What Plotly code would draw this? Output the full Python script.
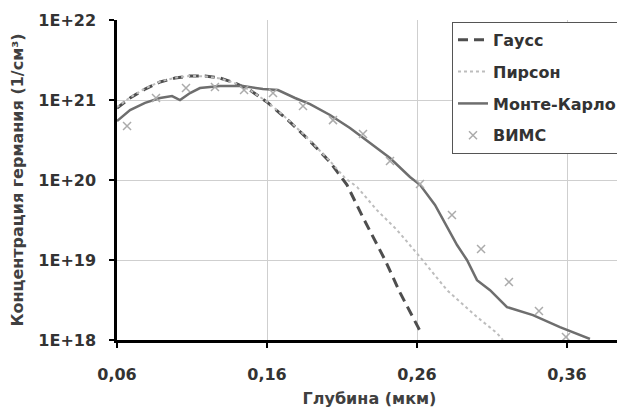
import plotly.graph_objects as go

# ---- data ----
gauss_x = [0.0600, 0.0687, 0.0787, 0.0887, 0.0987, 0.1087, 0.1187, 0.1287, 0.1387, 0.1487,
           0.1607, 0.1740, 0.1873, 0.2020, 0.2133, 0.2240, 0.2387, 0.2487, 0.2607, 0.2627]
gauss_y = [7.9e20, 1.06e21, 1.37e21, 1.68e21, 1.88e21, 2.0e21, 2.0e21, 1.88e21, 1.63e21, 1.33e21,
           9.2e20, 5.6e20, 3.25e20, 1.68e20, 8.7e19, 3.4e19, 1.0e19, 3.9e18, 1.45e18, 1.22e18]

pearson_x = [0.0600, 0.0687, 0.0787, 0.0887, 0.0987, 0.1087, 0.1187, 0.1287, 0.1387, 0.1487,
             0.1607, 0.1740, 0.1873, 0.2020, 0.2120, 0.2200, 0.2333, 0.2467, 0.2620, 0.2800,
             0.3000, 0.3133, 0.3173]
pearson_y = [8.1e20, 1.08e21, 1.39e21, 1.70e21, 1.90e21, 2.0e21, 1.98e21, 1.86e21, 1.62e21, 1.33e21,
             9.3e20, 5.7e20, 3.3e20, 1.72e20, 1.06e20, 8.2e19, 4.2e19, 2.37e19, 1.09e19, 4.2e18,
             1.94e18, 1.22e18, 1.0e18]

mc_x = [0.0600, 0.0687, 0.0787, 0.0887, 0.0967, 0.1020, 0.1087, 0.1153, 0.1287, 0.1440,
        0.1573, 0.1673, 0.1787, 0.1887, 0.2020, 0.2153, 0.2287, 0.2420, 0.2553, 0.2620,
        0.2720, 0.2800, 0.2867, 0.2933, 0.3000, 0.3087, 0.3200, 0.3373, 0.3553, 0.3753]
mc_y = [5.46e20, 7.5e20, 9.2e20, 1.06e21, 1.12e21, 1.0e21, 1.22e21, 1.41e21, 1.5e21, 1.5e21,
        1.37e21, 1.33e21, 1.06e21, 8.9e20, 6.5e20, 4.47e20, 2.9e20, 1.88e20, 1.09e20, 8.7e19,
        4.87e19, 2.58e19, 1.54e19, 1.0e19, 5.6e18, 4.2e18, 2.58e18, 2.05e18, 1.45e18, 1.03e18]

sims_x = [0.0667, 0.0860, 0.1060, 0.1253, 0.1447, 0.1640, 0.1840, 0.2040, 0.2240, 0.2420,
          0.2620, 0.2833, 0.3027, 0.3213, 0.3413, 0.3593]
sims_y = [4.73e20, 1.06e21, 1.41e21, 1.45e21, 1.33e21, 1.22e21, 8.4e20, 5.6e20, 3.76e20, 1.73e20,
          8.9e19, 3.65e19, 1.37e19, 5.3e18, 2.3e18, 1.09e18]

series_names = ["Гаусс", "Пирсон", "Монте-Карло", "ВИМС"]

x_tickvals = [0.06, 0.16, 0.26, 0.36]
x_ticktext = ["0,06", "0,16", "0,26", "0,36"]
y_tickvals = [1e18, 1e19, 1e20, 1e21, 1e22]
y_ticktext = ["1E+18", "1E+19", "1E+20", "1E+21", "1E+22"]

x_title = "Глубина (мкм)"
y_title = "Концентрация германия (1/см³)"

FONT = "DejaVu Sans"
TXT = "#333333"

fig = go.Figure()
fig.add_trace(go.Scatter(x=gauss_x, y=gauss_y, mode="lines", name=series_names[0],
                         legendgroup="g1",
                         line=dict(color="#4e4e4e", width=3, dash="10px,6px")))
fig.add_trace(go.Scatter(x=pearson_x, y=pearson_y, mode="lines", name=series_names[1],
                         legendgroup="g2",
                         line=dict(color="#bdbdbd", width=2, dash="dot")))
fig.add_trace(go.Scatter(x=mc_x, y=mc_y, mode="lines", name=series_names[2],
                         legendgroup="g3",
                         line=dict(color="#6e6e6e", width=2.5)))
fig.add_trace(go.Scatter(x=sims_x, y=sims_y, mode="markers", name=series_names[3],
                         legendgroup="g4",
                         marker=dict(symbol="x-thin", size=8, color="#ababab",
                                     line=dict(color="#ababab", width=1.5))))

# the page body adds an 8 px offset; the figure is sized to fill the 625x410 window
fig.update_layout(
    width=617, height=402,
    margin=dict(l=109, r=3, t=12, b=70),
    paper_bgcolor="white", plot_bgcolor="white",
    font=dict(family=FONT, color=TXT),
    showlegend=True,
    legend=dict(x=1.0, y=0.994, xanchor="right", yanchor="top",
                bgcolor="white", bordercolor="#555555", borderwidth=1,
                font=dict(family=FONT, size=16, color=TXT, weight="bold"),
                traceorder="grouped", tracegroupgap=8, itemwidth=30),
    xaxis=dict(
        range=[0.06, 0.39667], tickvals=x_tickvals, ticktext=x_ticktext,
        showgrid=True, gridcolor="#cfcfcf", gridwidth=1,
        showline=True, linecolor="black", linewidth=2.5,
        ticks="outside", ticklen=5, tickwidth=2, tickcolor="black",
        tickfont=dict(family=FONT, size=16, color=TXT, weight="bold"),
        ticklabelstandoff=13,
        title=dict(text=x_title, standoff=10,
                   font=dict(family=FONT, size=16, color="#404040", weight="bold")),
        zeroline=False,
    ),
    yaxis=dict(
        type="log", range=[18, 22], tickvals=y_tickvals, ticktext=y_ticktext,
        showgrid=True, gridcolor="#cfcfcf", gridwidth=1,
        showline=True, linecolor="black", linewidth=2.5,
        ticks="outside", ticklen=5, tickwidth=2, tickcolor="black",
        tickfont=dict(family=FONT, size=16, color=TXT, weight="bold"),
        ticklabelstandoff=10,
        title=dict(text=y_title, standoff=16,
                   font=dict(family=FONT, size=16, color="#404040", weight="bold")),
        zeroline=False,
    ),
)

fig.write_html("out.html")
